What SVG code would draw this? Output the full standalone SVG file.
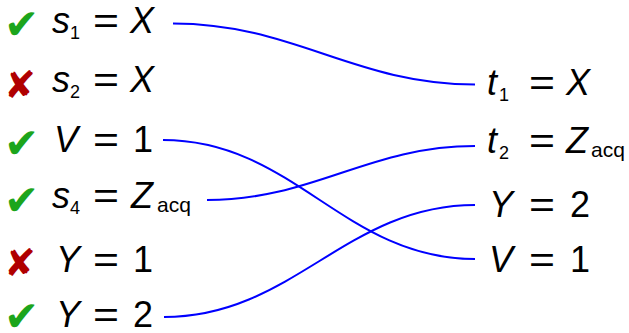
<svg xmlns="http://www.w3.org/2000/svg" width="629" height="333" viewBox="0 0 629 333">
<style>
  text { font-family: "Liberation Sans", Arial, sans-serif; fill: #000; }
  .m { font-size: 36px; }
  .i { font-style: italic; }
  .sub { font-size: 18px; }
  .acq { font-size: 21px; }
  .ok { font-family: "DejaVu Sans", sans-serif; font-size: 42px; fill: #1ca51c; }
  .no { font-family: "DejaVu Sans", sans-serif; font-size: 38px; fill: #b00000; }
  .c { fill: none; stroke: #0000ff; stroke-width: 2; }
</style>
<g id="connectors">
  <path class="c" d="M173,23.5 C294,23.5 354,84.5 475,84.5"/>
  <path class="c" d="M163,140 C294,140 344,259 475,259"/>
  <path class="c" d="M207,200 C314,200 368,146 475,146"/>
  <path class="c" d="M164,317 C293,317 346,205 475,205"/>
</g>
<g id="s1">
  <text class="ok" x="4" y="39">✔</text>
  <text class="m i" x="52" y="33">s</text><text class="sub" x="70" y="39">1</text>
  <text class="m" x="93" y="33" textLength="26" lengthAdjust="spacingAndGlyphs">=</text>
  <text class="m i" x="130" y="33">X</text>
</g>
<g id="s2">
  <text class="no" x="4" y="98">✘</text>
  <text class="m i" x="52" y="92">s</text><text class="sub" x="70" y="98">2</text>
  <text class="m" x="93" y="92" textLength="26" lengthAdjust="spacingAndGlyphs">=</text>
  <text class="m i" x="130" y="92">X</text>
</g>
<g id="V1left">
  <text class="ok" x="4" y="158">✔</text>
  <text class="m i" x="54" y="152">V</text>
  <text class="m" x="93" y="152" textLength="26" lengthAdjust="spacingAndGlyphs">=</text>
  <text class="m" x="133" y="152">1</text>
</g>
<g id="s4">
  <text class="ok" x="4" y="215">✔</text>
  <text class="m i" x="52" y="208">s</text><text class="sub" x="70" y="214">4</text>
  <text class="m" x="93" y="208" textLength="26" lengthAdjust="spacingAndGlyphs">=</text>
  <text class="m i" x="131" y="208">Z</text><text class="acq" x="157" y="212">acq</text>
</g>
<g id="Y1left">
  <text class="no" x="4" y="276">✘</text>
  <text class="m i" x="56" y="272">Y</text>
  <text class="m" x="93" y="272" textLength="26" lengthAdjust="spacingAndGlyphs">=</text>
  <text class="m" x="133" y="272">1</text>
</g>
<g id="Y2left">
  <text class="ok" x="4" y="331">✔</text>
  <text class="m i" x="56" y="327">Y</text>
  <text class="m" x="93" y="327" textLength="26" lengthAdjust="spacingAndGlyphs">=</text>
  <text class="m" x="133" y="327">2</text>
</g>
<g id="t1">
  <text class="m i" x="487" y="95">t</text><text class="sub" x="499" y="101">1</text>
  <text class="m" x="529" y="95" textLength="26" lengthAdjust="spacingAndGlyphs">=</text>
  <text class="m i" x="566" y="95">X</text>
</g>
<g id="t2">
  <text class="m i" x="487" y="153">t</text><text class="sub" x="499" y="159">2</text>
  <text class="m" x="529" y="153" textLength="26" lengthAdjust="spacingAndGlyphs">=</text>
  <text class="m i" x="566" y="153">Z</text><text class="acq" x="591" y="157">acq</text>
</g>
<g id="Y2right">
  <text class="m i" x="489" y="217">Y</text>
  <text class="m" x="529" y="217" textLength="26" lengthAdjust="spacingAndGlyphs">=</text>
  <text class="m" x="570" y="217">2</text>
</g>
<g id="V1right">
  <text class="m i" x="489" y="272">V</text>
  <text class="m" x="529" y="272" textLength="26" lengthAdjust="spacingAndGlyphs">=</text>
  <text class="m" x="570" y="272">1</text>
</g>
</svg>
